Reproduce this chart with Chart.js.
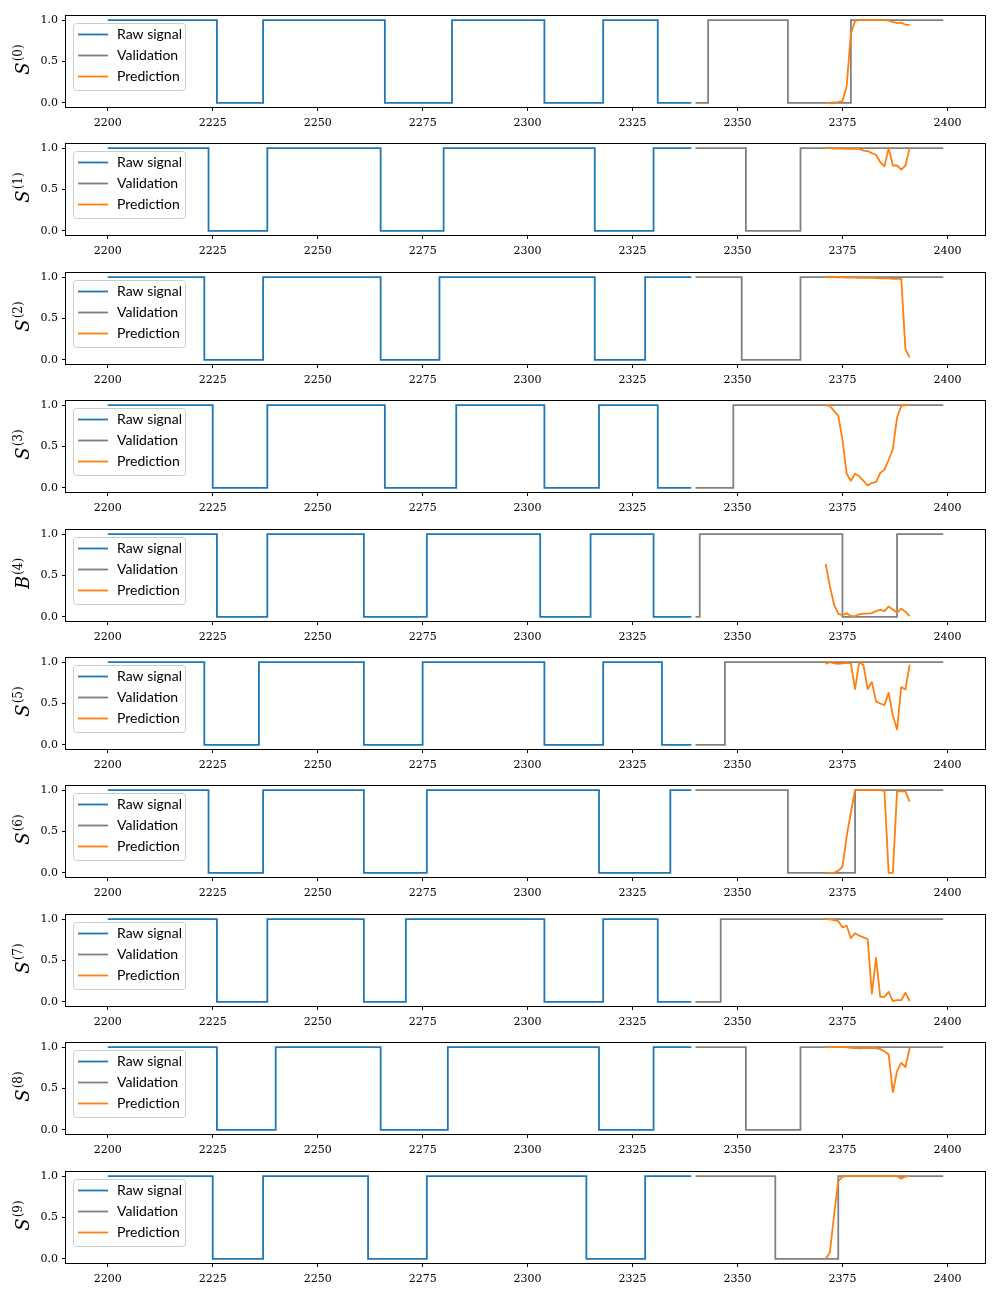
<!DOCTYPE html>
<html><head><meta charset="utf-8">
<script src="https://cdn.jsdelivr.net/npm/chart.js@4/dist/chart.umd.min.js"></script>
<style>
html,body{margin:0;padding:0;background:#fff;width:1000px;height:1300px;overflow:hidden;position:relative}
canvas{position:absolute;left:0}
</style></head><body>
<script>
// ---------- data ----------
const xTicks = [2200, 2225, 2250, 2275, 2300, 2325, 2350, 2375, 2400];
const yTicks = [0, 0.5, 1];
const seriesNames = ['Raw signal', 'Validation', 'Prediction'];
const axisLetters = ['S', 'S', 'S', 'S', 'B', 'S', 'S', 'S', 'S', 'S'];
const axisIndices = ['(0)', '(1)', '(2)', '(3)', '(4)', '(5)', '(6)', '(7)', '(8)', '(9)'];

// raw signal: [time, value] change points (step plot)
const raw0 = [[2200,1],[2226,0],[2237,1],[2266,0],[2282,1],[2304,0],[2318,1],[2331,0],[2339,0]];
const raw1 = [[2200,1],[2224,0],[2238,1],[2265,0],[2280,1],[2316,0],[2330,1],[2339,1]];
const raw2 = [[2200,1],[2223,0],[2237,1],[2265,0],[2279,1],[2316,0],[2328,1],[2339,1]];
const raw3 = [[2200,1],[2225,0],[2238,1],[2266,0],[2283,1],[2304,0],[2317,1],[2331,0],[2339,0]];
const raw4 = [[2200,1],[2226,0],[2238,1],[2261,0],[2276,1],[2303,0],[2315,1],[2330,0],[2339,0]];
const raw5 = [[2200,1],[2223,0],[2236,1],[2261,0],[2275,1],[2304,0],[2318,1],[2332,0],[2339,0]];
const raw6 = [[2200,1],[2224,0],[2237,1],[2261,0],[2276,1],[2317,0],[2334,1],[2339,1]];
const raw7 = [[2200,1],[2226,0],[2238,1],[2261,0],[2271,1],[2304,0],[2318,1],[2331,0],[2339,0]];
const raw8 = [[2200,1],[2226,0],[2240,1],[2265,0],[2281,1],[2317,0],[2330,1],[2339,1]];
const raw9 = [[2200,1],[2225,0],[2237,1],[2262,0],[2276,1],[2314,0],[2328,1],[2339,1]];

// validation: [time, value] change points (step plot)
const val0 = [[2340,0],[2343,1],[2362,0],[2377,1],[2399,1]];
const val1 = [[2340,1],[2352,0],[2365,1],[2399,1]];
const val2 = [[2340,1],[2351,0],[2365,1],[2399,1]];
const val3 = [[2340,0],[2349,1],[2399,1]];
const val4 = [[2340,0],[2341,1],[2375,0],[2388,1],[2399,1]];
const val5 = [[2340,0],[2347,1],[2399,1]];
const val6 = [[2340,1],[2362,0],[2378,1],[2399,1]];
const val7 = [[2340,0],[2346,1],[2399,1]];
const val8 = [[2340,1],[2352,0],[2365,1],[2399,1]];
const val9 = [[2340,1],[2359,0],[2374,1],[2399,1]];

// prediction time steps and values
const predX = [2371,2372,2373,2374,2375,2376,2377,2378,2379,2380,2381,2382,2383,2384,2385,2386,2387,2388,2389,2390,2391];
const pred0 = [0,0,0.005,0.01,0.02,0.2,0.84,0.99,1,1,1,1,1,1,1,0.995,0.98,0.965,0.97,0.945,0.94];
const pred1 = [1,1,0.995,0.995,0.995,0.99,0.99,0.99,0.99,0.97,0.965,0.94,0.92,0.83,0.78,1.0,0.79,0.79,0.74,0.79,1.0];
const pred2 = [1,1,1,0.998,0.997,0.995,0.995,0.993,0.99,0.99,0.99,0.99,0.988,0.985,0.985,0.985,0.98,0.98,0.98,0.13,0.03];
const pred3 = [0.996,0.99,0.93,0.87,0.58,0.17,0.085,0.17,0.14,0.085,0.03,0.06,0.07,0.18,0.22,0.34,0.47,0.85,0.99,1.0,1.0];
const pred4 = [0.64,0.37,0.15,0.036,0.02,0.045,0.01,0.01,0.03,0.04,0.04,0.045,0.07,0.085,0.07,0.126,0.09,0.05,0.1,0.06,0.01];
const pred5 = [0.98,1.0,0.985,0.98,0.985,0.99,0.985,0.675,1.0,0.965,0.675,0.76,0.525,0.5,0.48,0.63,0.355,0.187,0.7,0.67,0.97];
const pred6 = [0,0,0.004,0.025,0.074,0.44,0.73,1,1,1,1,1,1,1,0.99,0,0,0.985,0.985,0.985,0.86];
const pred7 = [1.0,0.996,0.987,0.976,0.9,0.92,0.77,0.83,0.8,0.78,0.76,0.1,0.53,0.06,0.06,0.12,0.01,0.02,0.02,0.11,0.01];
const pred8 = [1,1,1,1,1,0.996,0.992,0.988,0.984,0.988,0.988,0.988,0.988,0.976,0.95,0.91,0.455,0.71,0.81,0.76,0.99];
const pred9 = [0,0.077,0.53,0.94,0.99,1,1,1,1,1,1,1,1,1,1,1,1,1,0.97,0.995,1];

const rawSignal = [raw0, raw1, raw2, raw3, raw4, raw5, raw6, raw7, raw8, raw9];
const validation = [val0, val1, val2, val3, val4, val5, val6, val7, val8, val9];
const prediction = [pred0, pred1, pred2, pred3, pred4, pred5, pred6, pred7, pred8, pred9];

// ---------- styling / layout ----------
const COLORS = ['#1f77b4', '#808080', '#ff7f0e'];
const PANEL_TOP0 = 16, PANEL_STEP = 128.4, PANEL_H = 91;
const PAD_TOP = 8, CANVAS_H = 128;
const AX_LEFT = 66, AX_RIGHT = 985;
const LINE_W = 1.8;

const framePlugin = {
  id: 'frame',
  afterDatasetsDraw(chart) {
    const a = chart.chartArea, ctx = chart.ctx;
    ctx.save();
    ctx.strokeStyle = '#000';
    ctx.lineWidth = 1;
    ctx.strokeRect(Math.round(a.left) - 0.5, Math.round(a.top) - 0.5,
                   Math.round(a.right - a.left) + 1, Math.round(a.bottom - a.top) + 1);
    ctx.restore();
  }
};

function legendPlugin() {
  return {
    id: 'boxlegend',
    afterDatasetsDraw(chart) {
      const a = chart.chartArea, ctx = chart.ctx;
      const bx = a.left + 7, by = a.top + 7, bw = 112, bh = 67, r = 3;
      ctx.save();
      ctx.globalAlpha = 0.8;
      ctx.fillStyle = '#fff';
      ctx.beginPath();
      ctx.roundRect(bx + 0.5, by + 0.5, bw, bh, r);
      ctx.fill();
      ctx.globalAlpha = 1;
      ctx.strokeStyle = '#cccccc';
      ctx.lineWidth = 1;
      ctx.stroke();
      ctx.font = '14px Lato';
      ctx.textBaseline = 'middle';
      ctx.fillStyle = '#000';
      for (let k = 0; k < 3; k++) {
        const yy = by + 11.5 + k * 21;
        ctx.strokeStyle = COLORS[k];
        ctx.lineWidth = LINE_W;
        ctx.beginPath();
        ctx.moveTo(bx + 5, yy);
        ctx.lineTo(bx + 35, yy);
        ctx.stroke();
        ctx.fillText(seriesNames[k], bx + 44, yy);
      }
      ctx.restore();
    }
  };
}

function ylabelPlugin(i) {
  return {
    id: 'ylab',
    afterDraw(chart) {
      const a = chart.chartArea, ctx = chart.ctx;
      ctx.save();
      ctx.translate(29, (a.top + a.bottom) / 2 - 2);
      ctx.rotate(-Math.PI / 2);
      ctx.fillStyle = '#000';
      ctx.textBaseline = 'alphabetic';
      const mainFont = 'italic 18px "DejaVu Serif"';
      const supFont = '12px "DejaVu Serif"';
      ctx.font = mainFont;
      const w1 = ctx.measureText(axisLetters[i]).width;
      ctx.font = supFont;
      const w2 = ctx.measureText(axisIndices[i]).width;
      const x0 = -(w1 + w2 + 1) / 2;
      ctx.font = mainFont;
      ctx.fillText(axisLetters[i], x0, 0);
      ctx.font = supFont;
      ctx.fillText(axisIndices[i], x0 + w1 + 1, -7);
      ctx.restore();
    }
  };
}

function makePanel(i) {
  const top = Math.round(PANEL_TOP0 + i * PANEL_STEP) - PAD_TOP;
  const canvas = document.createElement('canvas');
  canvas.width = 1000;
  canvas.height = CANVAS_H;
  canvas.style.top = top + 'px';
  canvas.style.width = '1000px';
  canvas.style.height = CANVAS_H + 'px';
  document.body.appendChild(canvas);

  const tickFont = { family: 'DejaVu Serif', size: 11 };
  new Chart(canvas, {
    type: 'line',
    data: {
      datasets: [
        { label: seriesNames[0], data: rawSignal[i].map(p => ({ x: p[0], y: p[1] })),
          borderColor: COLORS[0], borderWidth: LINE_W, stepped: 'before', pointRadius: 0, fill: false, order: 3 },
        { label: seriesNames[1], data: validation[i].map(p => ({ x: p[0], y: p[1] })),
          borderColor: COLORS[1], borderWidth: LINE_W, stepped: 'before', pointRadius: 0, fill: false, order: 2 },
        { label: seriesNames[2], data: predX.map((x, k) => ({ x: x, y: prediction[i][k] })),
          borderColor: COLORS[2], borderWidth: LINE_W, tension: 0, pointRadius: 0, fill: false, order: 1,
          borderJoinStyle: 'round' }
      ]
    },
    options: {
      responsive: false,
      animation: false,
      devicePixelRatio: 1,
      layout: { padding: { top: PAD_TOP, right: 1000 - AX_RIGHT, left: 0, bottom: 0 } },
      plugins: { legend: { display: false }, tooltip: { enabled: false } },
      scales: {
        x: {
          type: 'linear', min: 2190.05, max: 2408.95,
          afterBuildTicks: s => { s.ticks = xTicks.map(v => ({ value: v })); },
          afterFit: s => { s.height = CANVAS_H - PAD_TOP - PANEL_H; s.paddingLeft = 0; s.paddingRight = 0; },
          grid: { drawOnChartArea: false, drawTicks: true, tickLength: 4, color: '#000', lineWidth: 1 },
          border: { display: false },
          ticks: { font: tickFont, color: '#000', padding: 6, maxRotation: 0, autoSkip: false,
                   callback: v => String(v) }
        },
        y: {
          min: -0.05, max: 1.05,
          afterBuildTicks: s => { s.ticks = yTicks.map(v => ({ value: v })); },
          afterFit: s => { s.width = AX_LEFT; s.paddingTop = 0; s.paddingBottom = 0; },
          grid: { drawOnChartArea: false, drawTicks: true, tickLength: 4, color: '#000', lineWidth: 1 },
          border: { display: false },
          ticks: { font: tickFont, color: '#000', padding: 4, callback: v => Number(v).toFixed(1) }
        }
      }
    },
    plugins: [framePlugin, legendPlugin(), ylabelPlugin(i)]
  });
}

for (let i = 0; i < 10; i++) makePanel(i);
</script>
</body></html>
